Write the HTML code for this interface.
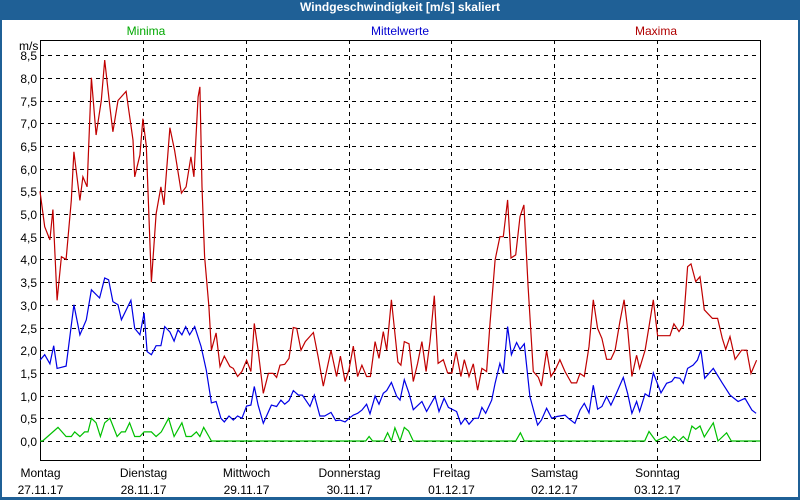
<!DOCTYPE html>
<html><head><meta charset="utf-8"><style>
html,body{margin:0;padding:0;background:#fff}
#win{position:absolute;left:0;top:0;width:800px;height:500px;background:#1f6096}
#inner{position:absolute;left:2px;top:20px;width:796px;height:477px;background:#fff}
#title{position:absolute;left:0;top:0;width:800px;height:20px;line-height:20px;text-align:center;color:#fff;font:bold 12px "Liberation Sans",sans-serif}
svg{position:absolute;left:0;top:0}
text{font-family:"Liberation Sans",sans-serif;font-size:12px}
</style></head><body>
<div id="win">
<div id="title">Windgeschwindigkeit [m/s] skaliert</div>
<div id="inner"></div>
</div>
<svg id="chart" width="800" height="500"></svg>
<script>
const yTicks=[0,0.5,1,1.5,2,2.5,3,3.5,4,4.5,5,5.5,6,6.5,7,7.5,8,8.5];
const dayNames=["Montag","Dienstag","Mittwoch","Donnerstag","Freitag","Samstag","Sonntag"];
const dayDates=["27.11.17","28.11.17","29.11.17","30.11.17","01.12.17","02.12.17","03.12.17"];
const maxT=[0,1.1,2.3,3,4,5,6.1,7.3,7.9,9.3,10,11,12,13.1,14.3,15.1,16.3,17,18.2,20.1,21.7,22.1,23.3,24,24.8,26,27.1,28.2,28.9,30.3,31.4,33,34.1,35.2,35.9,36.9,37.3,37.8,38.4,39.4,40,41.1,42,43,44.3,45.1,46.1,47.1,48.2,49.2,50,50.9,52.1,53.3,54.4,55.2,56,57.1,58.1,59.1,59.9,60.9,61.9,63.8,64.9,66.1,67.9,69.2,70.1,71.2,72.1,73.1,74.1,75.1,76.2,77.1,78.2,79.1,80.1,80.9,82,83.5,84.2,85,86.1,87.1,88.1,89.1,90.1,91,92,92.9,94.1,95.1,96.1,97.1,98.2,99,100.1,101.1,102.1,103.1,104.2,105,106.2,107.3,108.1,109.1,109.9,111,112,112.9,113.9,115.1,116.3,117,118.2,119.2,120.2,121.3,122.5,124,125.2,126,127,128.1,129.1,130.1,131.1,132.2,133.2,134.2,135.3,136.3,137.1,138.1,139.2,139.9,141.2,142.1,143.1,144.1,147,147.9,149.1,150.1,151.1,151.9,153,154,155,156.9,158.1,159.2,160,161,162.2,163.7,164.9,165.9,167.2];
const maxV=[5.5,4.72,4.43,5.1,3.1,4.06,4.0,5.3,6.37,5.3,5.82,5.6,8.0,6.74,7.5,8.39,7.36,6.81,7.5,7.7,6.63,5.82,6.3,7.1,6.5,3.5,5.0,5.6,5.2,6.9,6.4,5.46,5.6,6.26,5.82,7.58,7.8,5.6,4.06,2.96,2.0,2.38,1.64,1.87,1.64,1.6,1.42,1.53,1.78,1.53,2.59,2.0,1.05,1.49,1.49,1.4,1.67,1.69,1.82,2.5,2.48,2.0,2.19,2.39,1.86,1.21,2.0,1.42,1.87,1.31,1.57,2.09,1.42,1.67,1.42,1.42,2.19,1.82,2.41,2.0,3.11,1.74,1.67,2.19,2.14,1.31,1.71,2.19,1.53,2.19,3.2,1.71,1.79,1.5,1.5,1.97,1.42,1.79,1.42,1.7,1.12,1.6,1.53,2.59,3.99,4.5,4.5,5.31,4.03,4.1,4.94,5.2,3.4,1.53,1.4,1.21,1.99,1.42,1.56,1.79,1.53,1.28,1.28,1.49,1.42,2.08,3.11,2.48,2.26,1.8,1.8,2.0,2.63,3.11,2.48,1.42,1.89,1.6,2.0,2.52,3.11,2.32,2.32,2.58,2.41,2.55,3.84,3.9,3.51,3.62,2.89,2.7,2.7,2.26,2.02,2.3,1.8,2.0,2.0,1.49,1.78];
const meanT=[0,1.1,2.3,3.2,4,6.1,7.9,9.3,10.8,12,13.9,15.1,16,17,18.2,19,21.2,22.1,23.3,24.3,25,26,27.1,28.2,29.1,30.3,31.3,32.2,33.1,34,34.9,36.1,37.6,38.8,40,41.1,42.2,43,44.1,45.1,46.1,47.1,48.2,49.2,50,50.9,52.1,54,55.2,56.2,57.1,58.1,59.1,60.3,61.2,63,64,65.3,66.4,67.9,69,70,71.2,72.1,73.1,74.1,75.1,76.2,77,78.2,79.1,80.1,80.9,82,83.2,84,85,86.1,87.1,89.1,90.2,92.2,93.1,94.3,95.3,97.2,98.2,99.2,100.1,101.3,102.3,103.1,104,105.4,106.2,107.3,108.1,109.1,110,111.2,112,113,114.3,116.1,117,118.2,119.4,120.6,122.5,123.3,124.8,126,127,128.1,129.1,130.1,131.1,132.2,133.2,134.5,136.1,137.1,138.1,139.2,139.9,141.2,142.1,143.1,144.9,146.2,147.4,148.1,149.3,150.1,151.1,152.4,153.4,154.2,155.1,157.1,159.1,161,162.9,164.5,166.1,167.1];
const meanV=[1.78,1.9,1.7,2.1,1.6,1.65,3.0,2.34,2.67,3.33,3.15,3.59,3.55,3.07,3.0,2.67,3.1,2.48,2.34,2.82,1.97,1.9,2.1,2.1,2.52,2.4,2.2,2.45,2.34,2.52,2.34,2.52,2.08,1.56,0.84,0.87,0.5,0.42,0.55,0.46,0.55,0.5,0.77,0.79,1.2,0.79,0.39,0.79,0.76,0.9,0.81,0.89,1.11,1.01,1.01,0.76,1.01,0.55,0.55,0.63,0.45,0.46,0.42,0.5,0.57,0.61,0.68,0.81,0.6,0.99,0.81,1.05,1.11,1.29,0.99,0.9,1.35,1.05,0.69,0.87,0.65,0.98,0.65,0.94,0.74,0.65,0.37,0.5,0.37,0.5,0.5,0.74,0.61,0.9,1.27,1.71,1.49,2.52,1.9,2.17,2.02,2.14,0.98,0.35,0.46,0.72,0.5,0.54,0.57,0.5,0.39,0.68,0.83,0.62,1.23,0.7,0.76,0.98,0.79,1.05,1.4,1.05,0.61,0.87,0.65,1.04,0.98,1.5,1.06,1.27,1.31,1.4,1.38,1.27,1.6,1.67,1.78,2.0,1.38,1.6,1.29,1.01,0.87,0.94,0.68,0.61];
const minT=[0,0.6,4.2,6.1,7.3,8.1,9.3,10.4,11.2,12,13.1,14.1,15.1,16.3,18,19,19.9,20.9,22.1,23.3,24.3,26,27.1,28.3,30,31.3,33.1,34.1,35.3,36.5,37.3,38.2,39.4,40,76,76.8,77.6,80.2,81.1,82,82.8,84,85,86,87.1,111,112.1,113,141.1,142.1,143.7,146,147,147.9,149,150.1,151.1,152.1,153,154,155,157.1,158.2,160.2,161.3,168];
const minV=[0,0,0.3,0.1,0.1,0.2,0.1,0.2,0.2,0.5,0.4,0.1,0.4,0.5,0.1,0.2,0.2,0.4,0.1,0.1,0.2,0.2,0.1,0.2,0.5,0.1,0.4,0.1,0.1,0.2,0.1,0.3,0.1,0,0,0.1,0,0,0.18,0,0.29,0,0.3,0.22,0,0,0.18,0,0,0.21,0,0.1,0,0.1,0,0.1,0,0.33,0.26,0.33,0.09,0.4,0,0.18,0,0];

const L=40,R=760,T=40,B=460,Y0=441,PX=45.4;
const xs=h=>L+h*(R-L)/168;
const ys=v=>Y0-v*PX;
const svg=document.getElementById('chart');
const NS='http://www.w3.org/2000/svg';
function mk(tag,attrs,parent){const e=document.createElementNS(NS,tag);for(const k in attrs)e.setAttribute(k,attrs[k]);(parent||svg).appendChild(e);return e;}

yTicks.forEach(v=>{
  const y=Math.round(ys(v))+0.5;
  const g=mk('line',{x1:L,x2:R,y1:y,y2:y,stroke:'#000','stroke-dasharray':'4,4'});
  
  
  const t=mk('text',{x:37,y:y+4.5,'text-anchor':'end',fill:'#000'});
  t.textContent=v.toFixed(1).replace('.',',');
  
  
});
dayNames.forEach((d,i)=>{
  const x=Math.round(xs(i*24))+0.5;
  if(i>0){
    const g=mk('line',{x1:x,x2:x,y1:T,y2:B+8,stroke:'#000','stroke-dasharray':'4,4'});
    
    
  }
  const t=mk('text',{x:x,y:477,'text-anchor':'middle',fill:'#000'});
  t.textContent=d;
  
  
  const t2=mk('text',{x:x,y:494,'text-anchor':'middle',fill:'#000'});
  t2.textContent=dayDates[i];
  
  
});
const frame=mk('rect',{x:L+0.5,y:T+0.5,width:R-L,height:B-T,fill:'none',stroke:'#000'});


const unit=mk('text',{x:19,y:50,fill:'#000'});unit.textContent='m/s';



function series(T_,V_,color,name){
  const p=mk('polyline',{points:T_.map((h,i)=>xs(h).toFixed(1)+','+ys(V_[i]).toFixed(1)).join(' '),fill:'none',stroke:color,'stroke-width':1.2});
  
  
}
series(minT,minV,'#00c000','minima-line');
series(meanT,meanV,'#0000e6','mittelwerte-line');
series(maxT,maxV,'#c00000','maxima-line');

[['Minima',146,'#00a800','legend-minima'],['Mittelwerte',400,'#0000d0','legend-mittelwerte'],['Maxima',656,'#b00000','legend-maxima']].forEach(a=>{
  const t=mk('text',{x:a[1],y:35,'text-anchor':'middle',fill:a[2]});
  t.textContent=a[0];
  
  
});
</script>
</body></html>
